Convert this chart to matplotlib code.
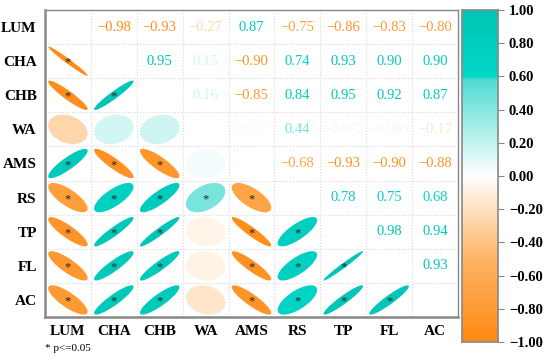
import numpy as np
import matplotlib
matplotlib.use("Agg")
import matplotlib.pyplot as plt
from matplotlib.colors import LinearSegmentedColormap
from matplotlib.patches import Polygon

plt.rcParams['font.family'] = ['Liberation Serif', 'DejaVu Serif']

labels = ["LUM", "CHA", "CHB", "WA", "AMS", "RS", "TP", "FL", "AC"]

# correlation coefficients (upper triangle)
r = np.array([
    [1.00, -0.98, -0.93, -0.27,  0.87, -0.75, -0.86, -0.83, -0.80],
    [-0.98, 1.00,  0.95,  0.15, -0.90,  0.74,  0.93,  0.90,  0.90],
    [-0.93, 0.95,  1.00,  0.16, -0.85,  0.84,  0.95,  0.92,  0.87],
    [-0.27, 0.15,  0.16,  1.00,  0.042, 0.44, -0.072, -0.085, -0.17],
    [0.87, -0.90, -0.85,  0.042, 1.00, -0.68, -0.93, -0.90, -0.88],
    [-0.75, 0.74,  0.84,  0.44, -0.68,  1.00,  0.78,  0.75,  0.68],
    [-0.86, 0.93,  0.95, -0.072, -0.93, 0.78,  1.00,  0.98,  0.94],
    [-0.83, 0.90,  0.92, -0.085, -0.90, 0.75,  0.98,  1.00,  0.93],
    [-0.80, 0.90,  0.87, -0.17, -0.88,  0.68,  0.94,  0.93,  1.00],
])

# pairs without significance star (lower triangle: row, col)
not_sig = [(3, 0), (3, 1), (3, 2), (4, 3), (6, 3), (7, 3), (8, 3)]

cmap = LinearSegmentedColormap.from_list("oc", [
    (0.00, "#FF8A12"),
    (0.25, "#FFB466"),
    (0.50, "#FFFFFF"),
    (0.79, "#4FDCD1"),
    (0.80, "#00D8C8"),
    (1.00, "#00C4B6"),
])

def col(v):
    return cmap((v + 1) / 2)

def fmt(v):
    if abs(v) < 0.1:
        s = ("%.3f" % abs(v)).rstrip("0")
    else:
        s = "%.2f" % abs(v)
    return ("\u2212" + s) if v < 0 else s

fig = plt.figure(figsize=(5.5, 3.62), dpi=100)
ax = fig.add_axes([0.0818, 0.1243, 0.7509, 0.8481])
n = len(labels)
ax.set_xlim(-0.5, n - 0.5)
ax.set_ylim(n - 0.5, -0.5)

t = np.linspace(0, 2 * np.pi, 120)
for i in range(n):
    for j in range(n):
        v = r[i, j]
        if j > i:
            ax.text(j, i, fmt(v), ha="center", va="center", fontsize=10.5,
                    color=col(v))
        elif i > j:
            d = np.arccos(v)
            ex = 0.43 * np.cos(t + d / 2)
            ey = -0.43 * np.cos(t - d / 2)
            ax.add_patch(Polygon(np.column_stack([j + ex, i + ey]),
                                 closed=True, facecolor=col(v),
                                 edgecolor="none"))
            if (i, j) not in not_sig:
                ax.text(j, i + 0.04, "*", ha="center", va="center",
                        fontsize=9, color="#222222")

for k in np.arange(0.5, n - 0.5):
    ax.axvline(k, color="#d8d8d8", lw=0.8, ls=":")
    ax.axhline(k, color="#d8d8d8", lw=0.8, ls=":")

ax.set_xticks(range(n))
ax.set_yticks(range(n))
ax.set_xticklabels(labels, fontsize=11, fontweight="bold")
ax.set_yticklabels(labels, fontsize=11, fontweight="bold")
ax.tick_params(length=0, pad=6)
for s in ax.spines.values():
    s.set_color("#888888")
    s.set_linewidth(1.0)
ax.spines["left"].set_linewidth(1.8)
ax.spines["bottom"].set_linewidth(1.8)

cax = fig.add_axes([0.84, 0.0552, 0.065, 0.9172])
grad = np.linspace(-1, 1, 400).reshape(-1, 1)
cax.imshow(grad, aspect="auto", cmap=cmap, origin="lower",
           extent=[0, 1, -1, 1], vmin=-1, vmax=1)
cax.set_xticks([])
cticks = np.arange(-1, 1.01, 0.2)
cax.yaxis.tick_right()
cax.set_yticks(cticks)
cax.set_yticklabels([fmt(v) if abs(v) > 1e-9 else "0.00" for v in cticks],
                    fontsize=10.5, fontweight="bold")
cax.tick_params(axis="y", length=4, color="#888888", pad=4)
for s in cax.spines.values():
    s.set_color("#888888")
    s.set_linewidth(1.2)

fig.text(0.082, 0.03, "* p<=0.05", fontsize=8)

fig.savefig("out.png", dpi=100)
